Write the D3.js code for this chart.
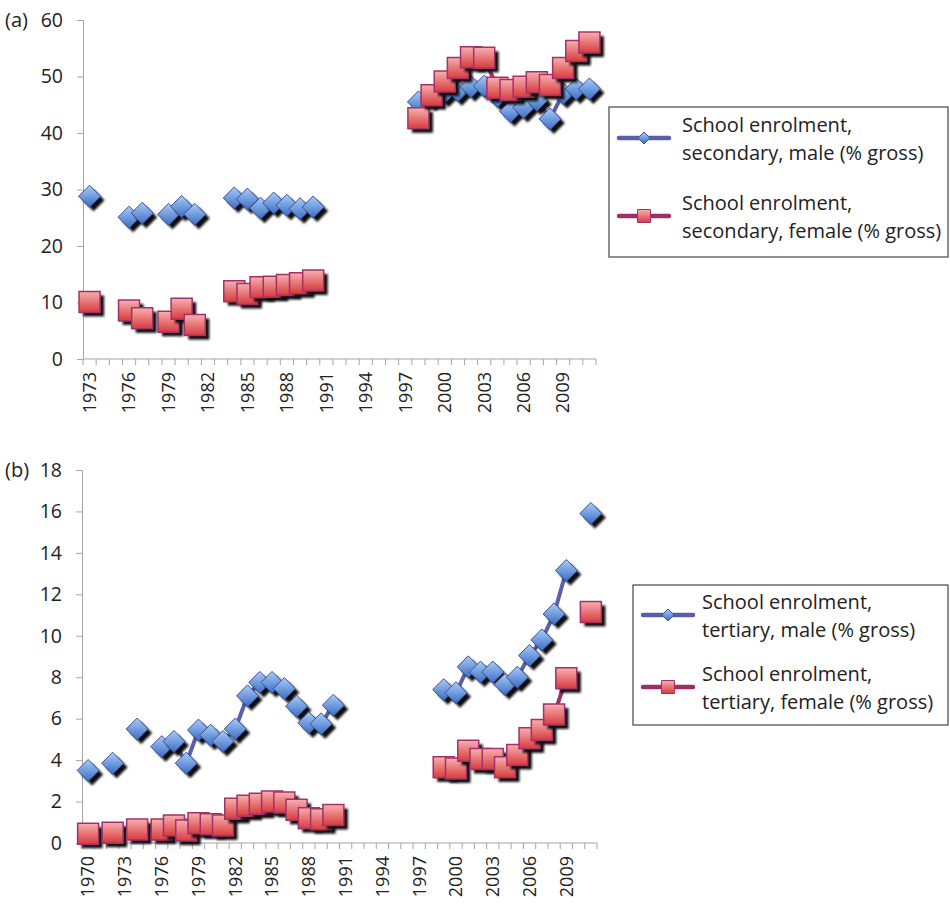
<!DOCTYPE html>
<html>
<head>
  <meta charset="UTF-8">
  <style>
    body { margin: 0; background-color: white; }
    text { font-family: "Open Sans", sans-serif; fill: #222; }
  </style>
</head>
<body>
<svg></svg>
<script src="https://d3js.org/d3.v7.min.js"></script>
<script>

// ---- data ----
const yearsA = d3.range(1973, 2012);
const secondaryMale = [28.8, null, null, 25.1, 25.8, null, 25.6, 27.0, 25.6, null, null,
    28.5, 28.3, 26.7, 27.6, 27.2, 26.6, 26.9,
    null, null, null, null, null, null, null,
    45.5, 46.5, 47.2, 47.5, 48.2, 48.3, 46.5, 43.8, 44.5, 45.8, 42.5, 47.0, 47.8, 47.8];
const secondaryFemale = [10.1, null, null, 8.6, 7.2, null, 6.6, 8.9, 6.0, null, null,
    12.0, 11.5, 12.7, 12.8, 13.1, 13.4, 13.9,
    null, null, null, null, null, null, null,
    42.6, 46.7, 49.1, 51.5, 53.4, 53.3, 48.0, 47.6, 48.2, 49.0, 48.5, 51.5, 54.5, 56.0];
const yTicksA = [0, 10, 20, 30, 40, 50, 60];

const yearsB = d3.range(1970, 2012);
const tertiaryMale = [3.5, null, 3.85, null, 5.5, null, 4.65, 4.9, 3.85, 5.45, 5.2, 4.9, 5.5,
    7.1, 7.75, 7.75, 7.45, 6.6, 5.8, 5.75, 6.65,
    null, null, null, null, null, null, null, null,
    7.4, 7.25, 8.5, 8.25, 8.25, 7.65, 8.0, 9.05, 9.8, 11.05, 13.15, null, 15.9];
const tertiaryFemale = [0.45, null, 0.5, null, 0.65, null, 0.65, 0.85, 0.6, 0.95, 0.9, 0.85, 1.65,
    1.8, 1.9, 2.0, 1.95, 1.6, 1.2, 1.15, 1.35,
    null, null, null, null, null, null, null, null,
    3.65, 3.6, 4.45, 4.05, 4.05, 3.65, 4.25, 5.05, 5.45, 6.2, 7.95, null, 11.15];
const yTicksB = [0, 2, 4, 6, 8, 10, 12, 14, 16, 18];

const legendA = ["School enrolment,|secondary, male (% gross)", "School enrolment,|secondary, female (% gross)"];
const legendB = ["School enrolment,|tertiary, male (% gross)", "School enrolment,|tertiary, female (% gross)"];

let width = 950, height = 907;
let svg = d3.select("svg").attr("width", width).attr("height", height);

// gradients + shadow blur
let defs = svg.append("defs");
let gBlue = defs.append("linearGradient").attr("id", "gradBlue").attr("x1", 0).attr("y1", 0).attr("x2", 0).attr("y2", 1);
gBlue.append("stop").attr("offset", "0%").attr("stop-color", "#a9cdf8");
gBlue.append("stop").attr("offset", "100%").attr("stop-color", "#3a6cc4");
let gRed = defs.append("linearGradient").attr("id", "gradRed").attr("x1", 0).attr("y1", 0).attr("x2", 0).attr("y2", 1);
gRed.append("stop").attr("offset", "0%").attr("stop-color", "#f7b0b0");
gRed.append("stop").attr("offset", "100%").attr("stop-color", "#d83a3c");
defs.append("filter").attr("id", "blur")
    .append("feGaussianBlur").attr("stdDeviation", 0.8);

const maleColor = "#5b5ea8", femaleColor = "#9e2f66";

function diamondPath(r) { return `M0,${-r}L${r},0L0,${r}L${-r},0Z`; }
function squarePath(r) { return `M${-r},${-r}H${r}V${r}H${-r}Z`; }

const seriesStyle = [
    { shape: diamondPath, size: 11, fill: "url(#gradBlue)", stroke: "#3f4f95", sw: 1, line: maleColor },
    { shape: squarePath, size: 10.5, fill: "url(#gradRed)", stroke: "#a3306a", sw: 1.5, line: femaleColor }
];

function drawPanel(cfg) {
    let g = svg.append("g");

    let x = d3.scaleBand().domain(cfg.years).range([cfg.x0, cfg.x1]).paddingInner(0).paddingOuter(0);
    let y = d3.scaleLinear().domain([0, cfg.ymax]).range([cfg.y0, cfg.y1]);

    // y axis
    let yAxis = g.append("g").attr("transform", `translate(${cfg.x0},0)`)
        .call(d3.axisLeft(y).tickValues(cfg.yTicks).tickSize(6).tickPadding(14));
    yAxis.select(".domain").attr("stroke", "#a6a6a6");
    yAxis.selectAll(".tick line").attr("stroke", "#a6a6a6");
    yAxis.selectAll(".tick text").style("font-size", "19.5px").style("font-family", "'Open Sans', sans-serif").attr("fill", "#222");

    // x axis: ticks at every category boundary, labels every 3rd year
    let xg = g.append("g");
    xg.append("line").attr("x1", cfg.x0).attr("x2", cfg.x1).attr("y1", cfg.y0).attr("y2", cfg.y0)
        .attr("stroke", "#a6a6a6");
    xg.selectAll(".xt").data(cfg.years.concat([null])).enter().append("line")
        .attr("x1", (d, i) => cfg.x0 + i * x.bandwidth())
        .attr("x2", (d, i) => cfg.x0 + i * x.bandwidth())
        .attr("y1", cfg.y0).attr("y2", cfg.y0 + 6)
        .attr("stroke", "#a6a6a6");
    xg.selectAll(".xl").data(cfg.years.filter((d, i) => i % 3 === 0)).enter().append("text")
        .attr("transform", d => `translate(${x(d) + x.bandwidth() / 2},${cfg.y0 + 13}) rotate(-90)`)
        .attr("text-anchor", "end")
        .attr("dy", "0.35em")
        .style("font-size", "18px")
        .text(d => d);

    // panel label
    g.append("text").attr("x", 5).attr("y", cfg.y1).attr("dy", "0.35em")
        .style("font-size", "20px").text(cfg.tag);

    // series: line under, then markers with shadow
    cfg.series.forEach((vals, si) => {
        let st = seriesStyle[si];
        let pts = cfg.years.map((yr, i) => ({ yr: yr, v: vals[i] }));
        let line = d3.line()
            .defined(d => d.v != null)
            .x(d => x(d.yr) + x.bandwidth() / 2)
            .y(d => y(d.v));
        g.append("path").datum(pts).attr("d", line)
            .attr("fill", "none").attr("stroke", st.line).attr("stroke-width", 4)
            .attr("stroke-linejoin", "round");

        let mk = g.selectAll(".m" + si).data(pts.filter(d => d.v != null)).enter().append("g")
            .attr("transform", d => `translate(${x(d.yr) + x.bandwidth() / 2},${y(d.v)})`);
        mk.append("path").attr("d", st.shape(st.size))
            .attr("transform", "translate(4,4)")
            .attr("fill", "#111").attr("filter", "url(#blur)");
        mk.append("path").attr("d", st.shape(st.size))
            .attr("fill", st.fill).attr("stroke", st.stroke).attr("stroke-width", st.sw);
    });

    // legend
    let L = cfg.legend;
    let lg = svg.append("g");
    lg.append("rect").attr("x", L.x).attr("y", L.y).attr("width", L.w).attr("height", L.h)
        .attr("fill", "white").attr("stroke", "#555").attr("stroke-width", 1.3);
    cfg.legendText.forEach((txt, si) => {
        let st = seriesStyle[si];
        let cy = L.y + L.rowY[si];
        lg.append("line").attr("x1", L.x + 10).attr("x2", L.x + 60).attr("y1", cy).attr("y2", cy)
            .attr("stroke", st.line).attr("stroke-width", 4.5).attr("stroke-linecap", "round");
        lg.append("path").attr("d", st.shape(si === 0 ? 6 : 6.5))
            .attr("transform", `translate(${L.x + 35},${cy})`)
            .attr("fill", st.fill).attr("stroke", st.stroke).attr("stroke-width", 1);
        let t = lg.append("text").attr("x", L.x + L.tx).attr("y", cy - 6).style("font-size", "20px");
        txt.split("|").forEach((part, k) => {
            t.append("tspan").attr("x", L.x + L.tx).attr("dy", k === 0 ? 0 : 28).text(part);
        });
    });
}

drawPanel({
    tag: "(a)", years: yearsA, series: [secondaryMale, secondaryFemale], yTicks: yTicksA, ymax: 60,
    x0: 83, x1: 596, y0: 359, y1: 20,
    legendText: legendA,
    legend: { x: 609, y: 107, w: 339, h: 150, rowY: [31, 109], tx: 73 }
});

drawPanel({
    tag: "(b)", years: yearsB, series: [tertiaryMale, tertiaryFemale], yTicks: yTicksB, ymax: 18,
    x0: 82, x1: 597, y0: 843, y1: 470,
    legendText: legendB,
    legend: { x: 633, y: 585, w: 315, h: 140, rowY: [30, 102], tx: 69 }
});

</script>
</body>
</html>
